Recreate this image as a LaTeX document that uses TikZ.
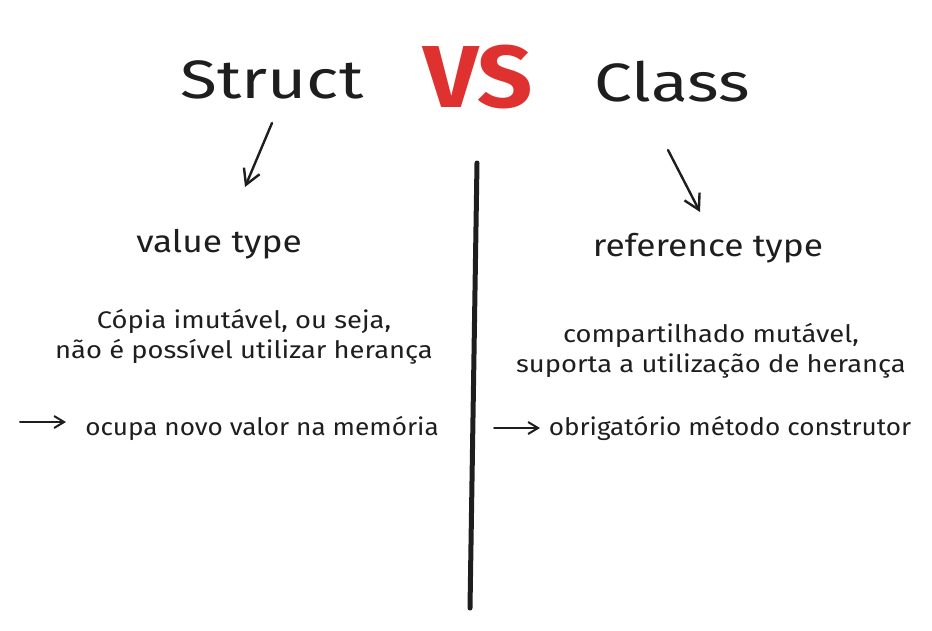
\documentclass[tikz,border=0pt]{standalone}
\usepackage{fontspec}
\setmainfont{Fira Sans}
\newfontfamily\wideA[FakeStretch=1.25]{Fira Sans}
\newfontfamily\wideB[FakeStretch=1.14]{Fira Sans}
\newfontfamily\wideC[FakeStretch=1.1]{Fira Sans}
\newfontfamily\wideD[FakeStretch=1.09]{Fira Sans}
\usetikzlibrary{arrows.meta}
\definecolor{ink}{HTML}{1E1E1E}
\definecolor{vsred}{HTML}{E03131}

\begin{document}
\begin{tikzpicture}[x=1pt, y=-1pt, ink,
    heading/.style={text=ink, font=\wideA\fontsize{54}{60}\selectfont},
    versus/.style={text=vsred, font=\wideC\fontsize{88}{94}\selectfont\bfseries},
    kind/.style={text=ink, font=\wideB\fontsize{31}{36}\selectfont},
    note/.style={text=ink, align=center, font=\wideB\fontsize{24}{30}\selectfont},
    point/.style={text=ink, font=\wideD\fontsize{24}{30}\selectfont},
    sketch/.style={line width=2.4pt, line cap=round, -{Straight Barb[length=15pt, width=17pt, line width=2.4pt]}},
    bullet/.style={line width=2pt, line cap=round, -{Straight Barb[length=10pt, width=12pt, line width=2pt]}}]
  \useasboundingbox (0,0) rectangle (932,630);

  \node[heading] (struct) at (272,80) {Struct};
  \node[versus] (vs) at (478,77) {VS};
  \node[heading] (class) at (672,82) {Class};

  \coordinate (s0) at (272,123); \coordinate (s1) at (245,187);
  \coordinate (c0) at (668,150); \coordinate (c1) at (700,212);
  \draw[sketch] (s0) -- (s1);
  \draw[sketch] (c0) -- (c1);

  \node[kind] (value) at (219,244) {value type};
  \node[kind] (reference) at (708,248) {reference type};

  \node[note] (copia) at (244,337) {Cópia imutável, ou seja,\\não é possível utilizar herança};
  \node[note] (compart) at (711,351) {compartilhado mutável,\\suporta a utilização de herança};

  \coordinate (l0) at (20,422); \coordinate (l1) at (66,422);
  \coordinate (r0) at (494,428); \coordinate (r1) at (540,428);
  \draw[bullet] (l0) -- (l1);
  \draw[bullet] (r0) -- (r1);
  \node[point] (ocupa) at (262,428) {ocupa novo valor na memória};
  \node[point] (obrig) at (730,428) {obrigatório método construtor};

  % divider
  \coordinate (top) at (477,163); \coordinate (bottom) at (470,608);
  \draw[line width=5pt, line cap=round] (top) -- (bottom);
\end{tikzpicture}
\end{document}
